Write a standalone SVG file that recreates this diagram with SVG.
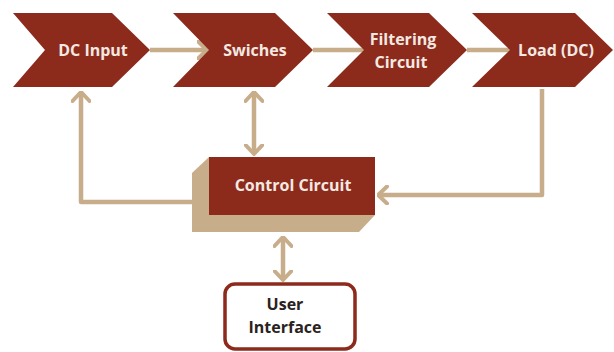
<svg xmlns="http://www.w3.org/2000/svg" width="614" height="352" viewBox="0 0 614 352">
<defs>
<style>
.chev{fill:#8C2A1C}
.lbl{font-family:"Open Sans","Liberation Sans",sans-serif;font-weight:bold;font-size:16px;fill:#F3E9E2;text-anchor:middle}
.dlbl{font-family:"Open Sans","Liberation Sans",sans-serif;font-weight:bold;font-size:16px;fill:#2A2220;text-anchor:middle}
.conn{fill:none;stroke:#C8AD8B;stroke-width:4.5;stroke-linejoin:round}
</style>
<marker id="ah" viewBox="0 0 12 20" refX="10.5" refY="10" markerWidth="12" markerHeight="20" markerUnits="userSpaceOnUse" orient="auto-start-reverse">
<path d="M1.5,1.5 L10.5,10 L1.5,18.5" fill="none" stroke="#C8AD8B" stroke-width="4" stroke-linecap="round" stroke-linejoin="round"/>
</marker>
</defs>
<rect width="614" height="352" fill="#FFFFFF"/>

<g id="connectors">
<path class="conn" d="M150,50 L207,50" marker-end="url(#ah)"/>
<path class="conn" d="M313,50 L369,50" marker-end="url(#ah)"/>
<path class="conn" d="M467,50 L514,50" marker-end="url(#ah)"/>
<path class="conn" d="M192,202 L81,202 L81,92" marker-end="url(#ah)"/>
<path class="conn" d="M254,92 L254,154" marker-start="url(#ah)" marker-end="url(#ah)"/>
<path class="conn" d="M542,89 L542,195 L378,195" marker-end="url(#ah)"/>
<path class="conn" d="M283,237 L283,280" marker-start="url(#ah)" marker-end="url(#ah)"/>
</g>

<g id="dc-input">
<polygon class="chev" points="13,13 112,13 150,50 112,87 13,87 45,50"/>
<text class="lbl" x="93" y="56">DC Input</text>
</g>

<g id="swiches">
<polygon class="chev" points="173,13 275,13 313,50 275,87 173,87 209,50"/>
<text class="lbl" x="255" y="56">Swiches</text>
</g>

<g id="filtering-circuit">
<polygon class="chev" points="327,13 429,13 467,50 429,87 327,87 364,50"/>
<text class="lbl" x="403" y="45">Filtering</text>
<text class="lbl" x="401" y="68">Circuit</text>
</g>

<g id="load-dc">
<polygon class="chev" points="472,13 575,13 613,50 575,87 472,87 510,50"/>
<text class="lbl" x="556" y="56">Load (DC)</text>
</g>

<g id="control-circuit">
<polygon fill="#C8AD8B" points="209,157 192,173 192,232 359,232 375,215 209,215"/>
<rect class="chev" x="209" y="157" width="166" height="58"/>
<text class="lbl" x="293" y="191">Control Circuit</text>
</g>

<g id="user-interface">
<rect x="225" y="284" width="130" height="65" rx="10" ry="10" fill="#FFFFFF" stroke="#8C2A1C" stroke-width="3.5"/>
<text class="dlbl" x="285" y="310">User</text>
<text class="dlbl" x="285" y="333">Interface</text>
</g>
</svg>
